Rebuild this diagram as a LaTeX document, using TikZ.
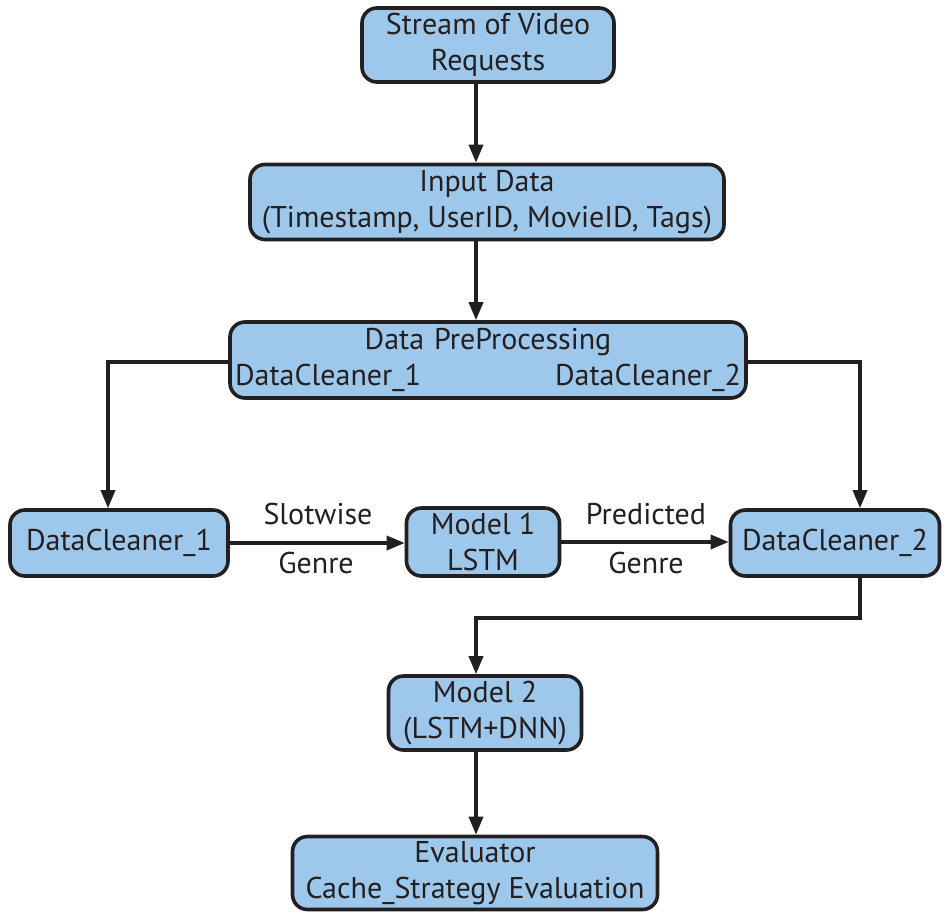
\documentclass[tikz,border=0pt]{standalone}
\usepackage{fontspec}
\setmainfont{PT Sans}
\usetikzlibrary{arrows.meta}
\definecolor{boxfill}{RGB}{158,200,235}
\definecolor{ink}{RGB}{35,31,32}
\begin{document}
\begin{tikzpicture}[x=1pt,y=-1pt,
  flowbox/.style={draw=ink, line width=3.6pt, fill=boxfill, rounded corners=15pt,
    inner sep=0pt, align=center, text=ink,
    font=\fontsize{30}{36}\selectfont},
  flow/.style={draw=ink, line width=3.4pt, -{Triangle[length=18pt,width=14pt]}},
  elabel/.style={text=ink, font=\fontsize{30}{36}\selectfont, inner sep=0pt}
]
\useasboundingbox (0,0) rectangle (944,916);

% boxes
\node[flowbox, minimum width=252pt, minimum height=74pt] (src) at (488,45)
  {Stream of Video\\Requests};
\node[flowbox, minimum width=474pt, minimum height=75pt] (inp) at (487,202)
  {Input Data\\(Timestamp, UserID, MovieID, Tags)};
\node[flowbox, minimum width=516pt, minimum height=76pt, text width=506pt] (pre) at (488,360)
  {Data PreProcessing\\\makebox[\linewidth]{DataCleaner\_1\hfill DataCleaner\_2}};
\node[flowbox, minimum width=218pt, minimum height=66pt] (dc1) at (119,543)
  {DataCleaner\_1};
\node[flowbox, minimum width=153pt, minimum height=68pt] (m1) at (483,542)
  {Model 1\\LSTM};
\node[flowbox, minimum width=209pt, minimum height=66pt] (dc2) at (835,543)
  {DataCleaner\_2};
\node[flowbox, minimum width=193pt, minimum height=74pt] (m2) at (485,713)
  {Model 2\\(LSTM+DNN)};
\node[flowbox, minimum width=365pt, minimum height=73pt] (ev) at (475,873)
  {Evaluator\\Cache\_Strategy Evaluation};

% connectors
\draw[flow] (src.south -| 476,0) -- (inp.north -| 476,0);
\draw[flow] (inp.south -| 476,0) -- (pre.north -| 476,0);
\draw[flow] (pre.west |- 0,362) -| (dc1.north -| 108,0);
\draw[flow] (pre.east |- 0,362) -| (dc2.north -| 860,0);
\draw[flow] (dc1.east) -- (m1.west |- dc1.east);
\draw[flow] (m1.east) -- (dc2.west |- m1.east);
\coordinate (bend) at (860,618);
\draw[flow] (dc2.south -| bend) -- (bend) -| (m2.north -| 476,0);
\draw[flow] (m2.south -| 476,0) -- (ev.north -| 476,0);

% edge labels
\node[elabel] (l1a) at (318,514) {Slotwise};
\node[elabel] (l1b) at (316,563) {Genre};
\node[elabel] (l2a) at (646,514) {Predicted};
\node[elabel] (l2b) at (646,563) {Genre};
\end{tikzpicture}
\end{document}
